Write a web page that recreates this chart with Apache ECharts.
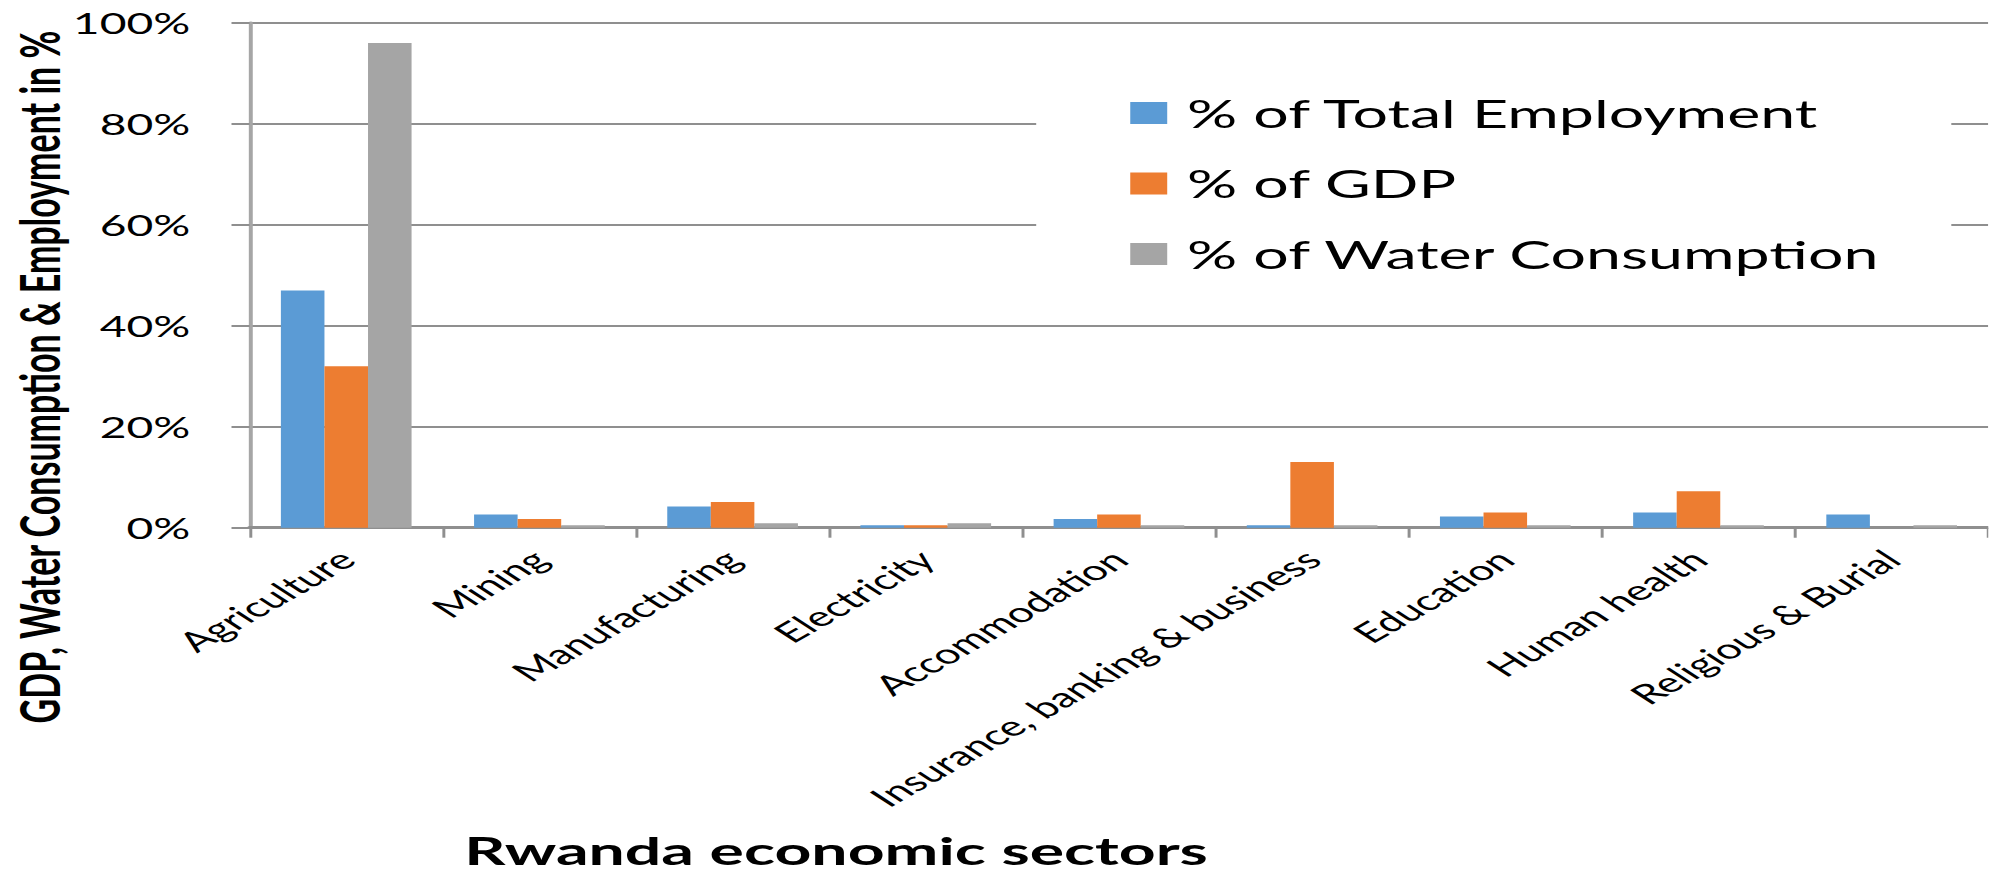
<!DOCTYPE html>
<html>
<head>
<meta charset="utf-8">
<script src="https://cdn.jsdelivr.net/npm/echarts@6/dist/echarts.min.js"></script>
<style>
  html, body { margin: 0; padding: 0; background: #ffffff; overflow: hidden; }
  #wrap { width: 1989px; height: 871px; overflow: hidden; }
  /* the chart is laid out narrow and widened horizontally */
  #chart { width: 1205.45px; height: 871px; transform: scaleX(1.65); transform-origin: 0 0; }
</style>
</head>
<body>
<div id="wrap"><div id="chart"></div></div>
<script>
const sectors = ['Agriculture', 'Mining', 'Manufacturing', 'Electricity', 'Accommodation',
  'Insurance, banking & business', 'Education', 'Human health', 'Religious & Burial'];
const employmentShare = [47, 2.6, 4.2, 0.5, 1.7, 0.5, 2.2, 3.0, 2.6];
const gdpShare = [32, 1.7, 5.1, 0.5, 2.6, 13.0, 3.0, 7.2, 0];
const waterShare = [96, 0.5, 0.9, 0.9, 0.5, 0.5, 0.5, 0.5, 0.5];
const seriesNames = ['% of Total Employment', '% of GDP', '% of Water Consumption'];
const seriesColors = ['#5b9bd5', '#ed7d31', '#a5a5a5'];
const yTicks = [0, 20, 40, 60, 80, 100];

const chart = echarts.init(document.getElementById('chart'), null, { renderer: 'svg' });
const font = 'Lato, "Noto Sans", sans-serif';

function barSeries(name, values, color) {
  return {
    name: name,
    type: 'bar',
    data: values,
    barWidth: 26.4,
    barGap: '0%',
    itemStyle: { color: color },
    emphasis: { disabled: true }
  };
}

chart.setOption({
  animation: false,
  backgroundColor: '#ffffff',
  grid: { left: 151.3, right: -3.6, top: 22.8, bottom: 343.3, containLabel: false },
  legend: {
    orient: 'vertical',
    left: 628,
    top: 60,
    padding: [33, 42, 26, 57],
    backgroundColor: '#ffffff',
    itemWidth: 22.4,
    itemHeight: 22,
    itemGap: 30.5,
    icon: 'rect',
    selectedMode: false,
    textStyle: { fontFamily: font, fontSize: 38, color: '#000000', lineHeight: 40, padding: [0, 0, 0, 7] },
    data: seriesNames
  },
  xAxis: {
    type: 'category',
    data: sectors,
    axisLine: { lineStyle: { color: '#8f8f8f', width: 3 } },
    axisTick: { show: true, length: 10, lineStyle: { color: '#8f8f8f', width: 1.8 } },
    axisLabel: { rotate: 43, margin: 27, fontFamily: font, fontSize: 27.5, color: '#000000', interval: 0 }
  },
  yAxis: {
    type: 'value',
    min: yTicks[0],
    max: yTicks[yTicks.length - 1],
    interval: 20,
    axisLine: { show: true, lineStyle: { color: '#a6a6a6', width: 2.4 } },
    axisTick: { show: true, length: 11, lineStyle: { color: '#8f8f8f', width: 2 } },
    splitLine: { lineStyle: { color: '#8f8f8f', width: 2 } },
    axisLabel: { margin: 36, fontFamily: font, fontSize: 28, color: '#000000', formatter: '{value}%' }
  },
  graphic: [
    {
      type: 'text',
      x: 23, y: 377,
      rotation: Math.PI / 2,
      style: {
        text: 'GDP, Water Consumption & Employment in %',
        fontFamily: font, fontSize: 34, fontWeight: 'bold', fill: '#000000',
        align: 'center', verticalAlign: 'middle'
      }
    },
    {
      type: 'text',
      x: 506.7, y: 850,
      style: {
        text: 'Rwanda economic sectors',
        fontFamily: font, fontSize: 39, fontWeight: 'bold', fill: '#000000',
        align: 'center', verticalAlign: 'middle'
      }
    }
  ],
  series: [
    barSeries(seriesNames[0], employmentShare, seriesColors[0]),
    barSeries(seriesNames[1], gdpShare, seriesColors[1]),
    barSeries(seriesNames[2], waterShare, seriesColors[2])
  ]
});
</script>
</body>
</html>
